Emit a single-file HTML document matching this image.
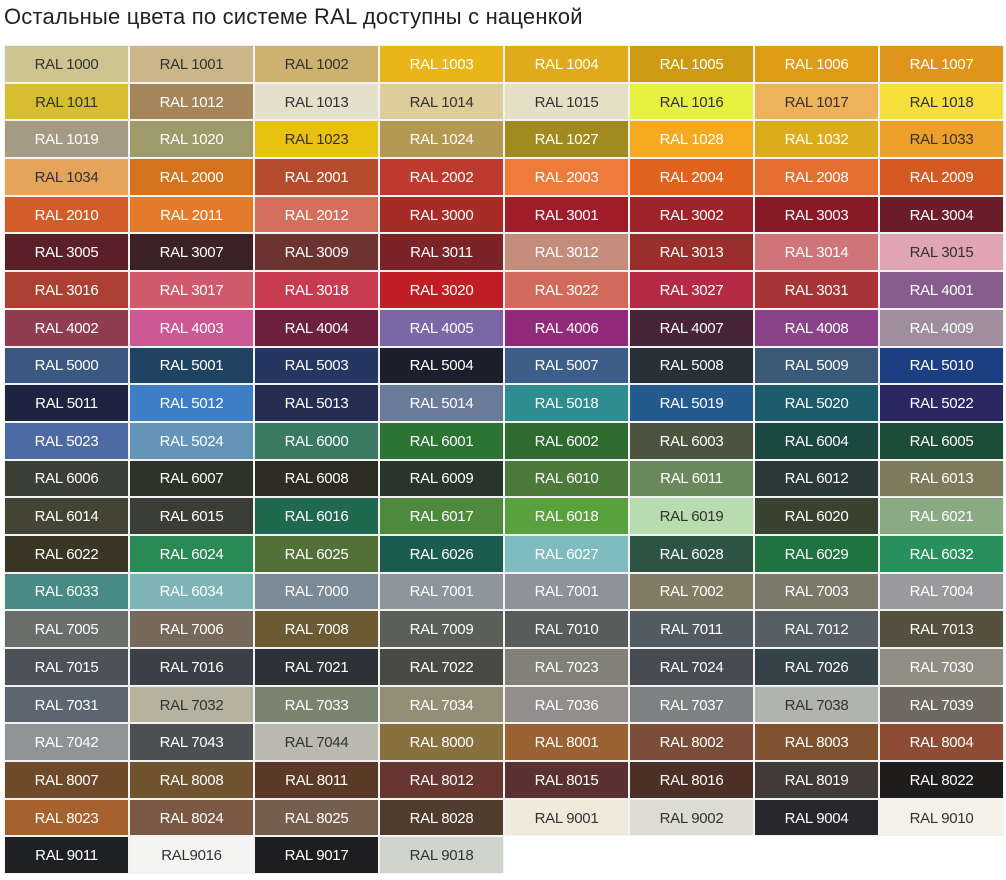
<!DOCTYPE html>
<html><head><meta charset="utf-8"><style>
body{margin:0;background:#fff;width:1006px;height:880px;overflow:hidden;font-family:"Liberation Sans","DejaVu Sans",sans-serif}
h1{position:absolute;left:4px;top:2px;margin:0;font-weight:normal;font-size:22px;color:#222;line-height:30px;letter-spacing:0.2px}
.g{position:absolute;left:4px;top:45px;width:1000px;display:grid;grid-template-columns:repeat(8,125px);grid-auto-rows:37.7px}
.g div{display:flex;align-items:center;justify-content:center;color:#fff;font-size:15px;box-shadow:inset 0 0 0 1px #f2f2f2;letter-spacing:-0.3px;padding-top:1px;box-sizing:border-box}
.g div.d{color:#333}
</style></head><body>
<h1>Остальные цвета по системе RAL доступны с наценкой</h1>
<div class="g">
<div class="d" style="background:#cdc58f">RAL 1000</div><div class="d" style="background:#cbb68a">RAL 1001</div><div class="d" style="background:#cdb16e">RAL 1002</div><div style="background:#eab519">RAL 1003</div><div style="background:#e0aa1b">RAL 1004</div><div style="background:#cd9c12">RAL 1005</div><div style="background:#de9b16">RAL 1006</div><div style="background:#e0941a">RAL 1007</div>
<div class="d" style="background:#d6be2e">RAL 1011</div><div style="background:#a4865a">RAL 1012</div><div class="d" style="background:#e4e0cb">RAL 1013</div><div class="d" style="background:#dccd9a">RAL 1014</div><div class="d" style="background:#e5dfc6">RAL 1015</div><div class="d" style="background:#e6f23e">RAL 1016</div><div class="d" style="background:#eeb35a">RAL 1017</div><div class="d" style="background:#f5e03b">RAL 1018</div>
<div style="background:#a59a84">RAL 1019</div><div style="background:#9e9a6a">RAL 1020</div><div class="d" style="background:#e8c20e">RAL 1023</div><div style="background:#b49953">RAL 1024</div><div style="background:#a18b1e">RAL 1027</div><div style="background:#f4a91f">RAL 1028</div><div style="background:#dcac1d">RAL 1032</div><div class="d" style="background:#ec9f2b">RAL 1033</div>
<div class="d" style="background:#e6a45a">RAL 1034</div><div style="background:#d5731d">RAL 2000</div><div style="background:#b74c2c">RAL 2001</div><div style="background:#be3a2e">RAL 2002</div><div style="background:#ef7b3a">RAL 2003</div><div style="background:#e0621c">RAL 2004</div><div style="background:#e56f30">RAL 2008</div><div style="background:#d55a21">RAL 2009</div>
<div style="background:#d25d2a">RAL 2010</div><div style="background:#e37b2b">RAL 2011</div><div style="background:#d36f5c">RAL 2012</div><div style="background:#a72c28">RAL 3000</div><div style="background:#9f1d2a">RAL 3001</div><div style="background:#9f2328">RAL 3002</div><div style="background:#881a28">RAL 3003</div><div style="background:#6b1d2a">RAL 3004</div>
<div style="background:#5b1f27">RAL 3005</div><div style="background:#3d2225">RAL 3007</div><div style="background:#6c3330">RAL 3009</div><div style="background:#7b2327">RAL 3011</div><div style="background:#c48d7b">RAL 3012</div><div style="background:#9a2e2b">RAL 3013</div><div style="background:#cf7579">RAL 3014</div><div class="d" style="background:#e0a4b3">RAL 3015</div>
<div style="background:#ae4033">RAL 3016</div><div style="background:#d0596b">RAL 3017</div><div style="background:#c83a4f">RAL 3018</div><div style="background:#c11d24">RAL 3020</div><div style="background:#d16a5a">RAL 3022</div><div style="background:#b52a44">RAL 3027</div><div style="background:#a73436">RAL 3031</div><div style="background:#875d8e">RAL 4001</div>
<div style="background:#8f3d4f">RAL 4002</div><div style="background:#cc5994">RAL 4003</div><div style="background:#6d1f3e">RAL 4004</div><div style="background:#7b67a6">RAL 4005</div><div style="background:#912a7a">RAL 4006</div><div style="background:#48243c">RAL 4007</div><div style="background:#8a4389">RAL 4008</div><div style="background:#a08ea0">RAL 4009</div>
<div style="background:#3c5880">RAL 5000</div><div style="background:#1f4360">RAL 5001</div><div style="background:#243661">RAL 5003</div><div style="background:#1c1e2b">RAL 5004</div><div style="background:#3e5e8a">RAL 5007</div><div style="background:#283038">RAL 5008</div><div style="background:#3a5a78">RAL 5009</div><div style="background:#1c3e82">RAL 5010</div>
<div style="background:#1c2440">RAL 5011</div><div style="background:#3e7ec4">RAL 5012</div><div style="background:#252d52">RAL 5013</div><div style="background:#6a7b9a">RAL 5014</div><div style="background:#2e8d8e">RAL 5018</div><div style="background:#245a8e">RAL 5019</div><div style="background:#1d5c6a">RAL 5020</div><div style="background:#2b2760">RAL 5022</div>
<div style="background:#4d6aa4">RAL 5023</div><div style="background:#6494b8">RAL 5024</div><div style="background:#3a7a63">RAL 6000</div><div style="background:#2c7434">RAL 6001</div><div style="background:#2e6b2e">RAL 6002</div><div style="background:#4c5440">RAL 6003</div><div style="background:#1b4840">RAL 6004</div><div style="background:#1d4c38">RAL 6005</div>
<div style="background:#3c3f36">RAL 6006</div><div style="background:#2c3428">RAL 6007</div><div style="background:#2d2c22">RAL 6008</div><div style="background:#27352c">RAL 6009</div><div style="background:#4c7a3a">RAL 6010</div><div style="background:#6a8a5e">RAL 6011</div><div style="background:#2b3a38">RAL 6012</div><div style="background:#7d7b5c">RAL 6013</div>
<div style="background:#444434">RAL 6014</div><div style="background:#3a3c36">RAL 6015</div><div style="background:#1f6a4e">RAL 6016</div><div style="background:#4e8a3e">RAL 6017</div><div style="background:#58a13c">RAL 6018</div><div class="d" style="background:#b8dbb0">RAL 6019</div><div style="background:#37432f">RAL 6020</div><div style="background:#8aaa84">RAL 6021</div>
<div style="background:#3a3626">RAL 6022</div><div style="background:#2a8a55">RAL 6024</div><div style="background:#527138">RAL 6025</div><div style="background:#1c5c50">RAL 6026</div><div style="background:#7fbcc0">RAL 6027</div><div style="background:#2e5446">RAL 6028</div><div style="background:#1f7340">RAL 6029</div><div style="background:#27905c">RAL 6032</div>
<div style="background:#478b84">RAL 6033</div><div style="background:#7eb4b6">RAL 6034</div><div style="background:#7b8a95">RAL 7000</div><div style="background:#8c969c">RAL 7001</div><div style="background:#8c9499">RAL 7001</div><div style="background:#817c64">RAL 7002</div><div style="background:#7b7a6a">RAL 7003</div><div style="background:#9a9a9c">RAL 7004</div>
<div style="background:#6b6f6c">RAL 7005</div><div style="background:#76695a">RAL 7006</div><div style="background:#6c5a32">RAL 7008</div><div style="background:#5a5f58">RAL 7009</div><div style="background:#585c5a">RAL 7010</div><div style="background:#525b63">RAL 7011</div><div style="background:#565f64">RAL 7012</div><div style="background:#56503f">RAL 7013</div>
<div style="background:#4d5258">RAL 7015</div><div style="background:#3a4045">RAL 7016</div><div style="background:#2e3236">RAL 7021</div><div style="background:#4a4a44">RAL 7022</div><div style="background:#818178">RAL 7023</div><div style="background:#474b51">RAL 7024</div><div style="background:#36424a">RAL 7026</div><div style="background:#908d83">RAL 7030</div>
<div style="background:#5c6670">RAL 7031</div><div class="d" style="background:#b5b39e">RAL 7032</div><div style="background:#7a8570">RAL 7033</div><div style="background:#938e76">RAL 7034</div><div style="background:#928e8d">RAL 7036</div><div style="background:#7e8082">RAL 7037</div><div class="d" style="background:#b1b3ad">RAL 7038</div><div style="background:#6e6a62">RAL 7039</div>
<div style="background:#909496">RAL 7042</div><div style="background:#4d5052">RAL 7043</div><div class="d" style="background:#bab9ad">RAL 7044</div><div style="background:#89703f">RAL 8000</div><div style="background:#9a6232">RAL 8001</div><div style="background:#7a4e38">RAL 8002</div><div style="background:#7f5330">RAL 8003</div><div style="background:#8e4c34">RAL 8004</div>
<div style="background:#6e4a2a">RAL 8007</div><div style="background:#70532f">RAL 8008</div><div style="background:#5a3a27">RAL 8011</div><div style="background:#663630">RAL 8012</div><div style="background:#5a3030">RAL 8015</div><div style="background:#4c2f25">RAL 8016</div><div style="background:#403a38">RAL 8019</div><div style="background:#1f1c1c">RAL 8022</div>
<div style="background:#a6612e">RAL 8023</div><div style="background:#7a5844">RAL 8024</div><div style="background:#765e4e">RAL 8025</div><div style="background:#4f3c2c">RAL 8028</div><div class="d" style="background:#efeadb">RAL 9001</div><div class="d" style="background:#dcdcd2">RAL 9002</div><div style="background:#28282c">RAL 9004</div><div class="d" style="background:#f3f1e8">RAL 9010</div>
<div style="background:#1e2024">RAL 9011</div><div class="d" style="background:#f4f5f2">RAL9016</div><div style="background:#1e1e20">RAL 9017</div><div class="d" style="background:#cfd4cc">RAL 9018</div>
</div>
</body></html>
